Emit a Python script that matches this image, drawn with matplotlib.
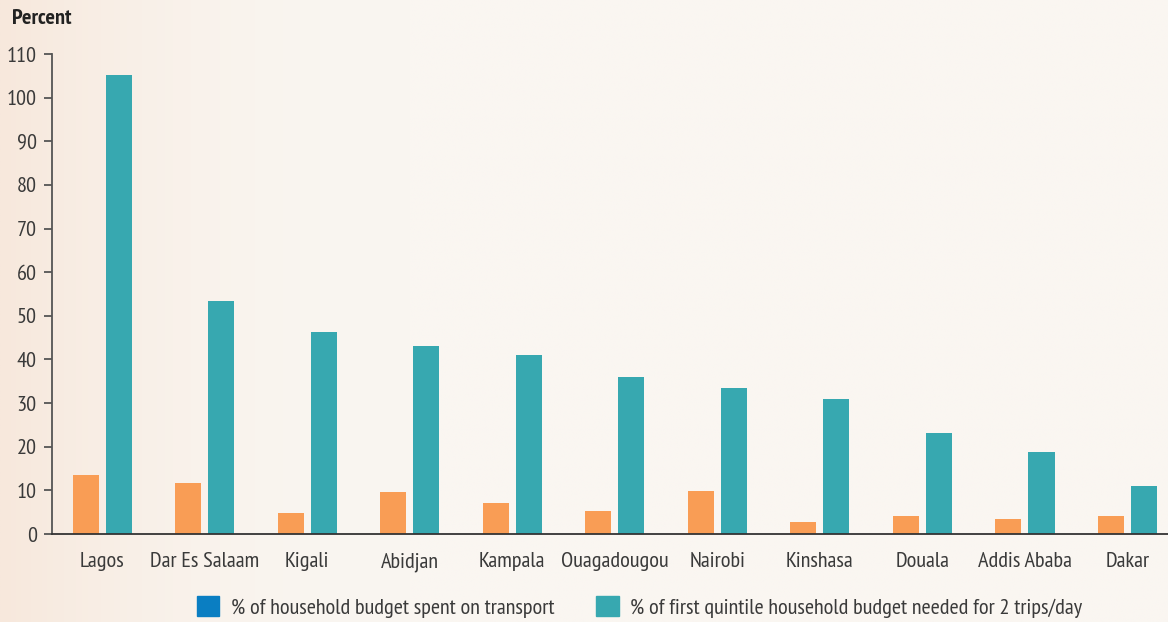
import matplotlib
matplotlib.use("Agg")
import matplotlib.pyplot as plt
from matplotlib.patches import Patch
import numpy as np

plt.rcParams['font.family'] = ['PT Sans Narrow', 'DejaVu Sans']

cities = ["Lagos", "Dar Es Salaam", "Kigali", "Abidjan", "Kampala", "Ouagadougou",
          "Nairobi", "Kinshasa", "Douala", "Addis Ababa", "Dakar"]
spent = [13.5, 11.7, 4.8, 9.6, 7.1, 5.3, 9.9, 2.8, 4.1, 3.4, 4.1]
needed = [105.3, 53.4, 46.3, 43.1, 41.1, 36.0, 33.5, 31.0, 23.2, 18.8, 11.0]
y_ticks = list(range(0, 111, 10))
legend_labels = ["% of household budget spent on transport",
                 "% of first quintile household budget needed for 2 trips/day"]

orange = "#F99D55"
teal = "#37A8B0"
legend_blue = "#0A7EC2"
text_col = "#3A3A3A"

fig = plt.figure(figsize=(11.68, 6.22), dpi=100)

# soft peach-to-cream background
bg = fig.add_axes([0, 0, 1, 1], zorder=-10)
xx, yy = np.meshgrid(np.linspace(0, 1, 600), np.linspace(0, 1, 320))
w = np.clip(1 - xx / 0.35, 0, 1) ** 2
c_main = np.array([250, 246, 241]) / 255
c_edge = np.array([247, 232, 220]) / 255
img = c_main[None, None, :] * (1 - w[..., None]) + c_edge[None, None, :] * w[..., None]
bg.imshow(img, aspect="auto", extent=[0, 1, 0, 1], interpolation="bilinear")
bg.axis("off")

ax = fig.add_axes([52 / 1168, 88 / 622, 1 - 52 / 1168, (534 - 54) / 622])
ax.patch.set_alpha(0)

x = np.arange(len(cities))
ax.bar(x - 0.161, spent, width=0.254, color=orange)
ax.bar(x + 0.161, needed, width=0.254, color=teal)

ax.set_xlim(-0.49, 10.395)
ax.set_ylim(0, 110)
ax.set_yticks(y_ticks)
ax.set_xticks(x)
ax.set_xticklabels(cities)
ax.tick_params(axis="x", length=0, pad=13, labelsize=16, labelcolor=text_col)
ax.tick_params(axis="y", length=6, width=1.3, color="#555555", pad=5,
               labelsize=16, labelcolor=text_col)
for s in ["top", "right"]:
    ax.spines[s].set_visible(False)
ax.spines["left"].set_color("#555555")
ax.spines["left"].set_linewidth(1.3)
ax.spines["bottom"].set_color("#333333")
ax.spines["bottom"].set_linewidth(1.3)

fig.text(12 / 1168, 1 - 18 / 622, "Percent", fontsize=16, fontweight="bold",
         color="#222222", va="center", ha="left")

handles = [Patch(color=legend_blue), Patch(color=teal)]
fig.legend(handles, legend_labels, loc="center", bbox_to_anchor=(0.5475, 0.024),
           ncol=2, frameon=False, fontsize=16, handlelength=1.0, handleheight=1.0,
           columnspacing=1.9, handletextpad=0.5, labelcolor=text_col)

fig.savefig("out.png", dpi=100)
